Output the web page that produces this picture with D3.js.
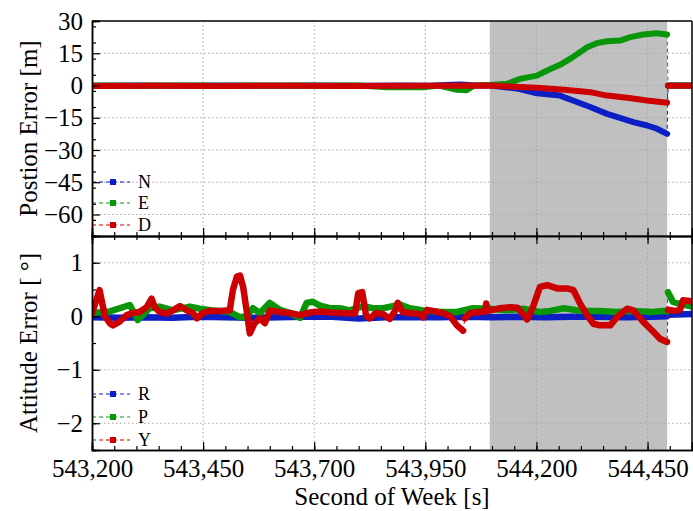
<!DOCTYPE html>
<html>
<head>
<meta charset="utf-8">
<script src="https://cdn.jsdelivr.net/npm/d3@7"></script>
<style>
  body { margin: 0; background: #fff; }
  svg text { font-family: "Liberation Serif", "Times New Roman", serif; fill: #000; }
</style>
</head>
<body>
<div id="chart"></div>
<script>
// data: [second of week, error]
const posN = [[543200, -0.1], [543300, 0], [543400, -0.1], [543500, 0], [543600, -0.1], [543700, 0],
  [543800, -0.1], [543900, 0], [543960, -0.1], [544010, 0.3], [544030, 0.5], [544055, 0.1], [544096, 0],
  [544130, -0.8], [544160, -1.5], [544201, -3.6], [544253, -4.7], [544282, -7], [544321, -10],
  [544359, -13.2], [544395, -15.5], [544418, -17], [544449, -18.6], [544471, -20.1], [544494, -22.5],
  [544495, null], [544496, 0], [544550, 0]];
const posE = [[543200, 0], [543300, -0.1], [543400, 0], [543500, -0.1], [543600, 0], [543700, -0.1],
  [543800, 0], [543864, -0.8], [543945, -0.8], [543980, 0], [544021, -2.0], [544043, -2.2], [544060, 0],
  [544096, 0.2], [544134, 0.8], [544163, 3.1], [544201, 4.6], [544224, 7], [544253, 9.6], [544282, 13.2],
  [544314, 17.8], [544336, 19.7], [544359, 20.6], [544388, 20.9], [544411, 22.5], [544440, 23.7],
  [544471, 24.3], [544494, 23.7], [544495, null], [544496, 0], [544550, 0]];
const posD = [[543200, -0.2], [543350, -0.1], [543500, -0.2], [543650, -0.1], [543800, -0.2],
  [543950, -0.1], [544096, 0], [544201, -1.1], [544263, -2], [544321, -3.1], [544359, -4.7],
  [544404, -5.7], [544449, -7], [544494, -8], [544495, null], [544496, -0.1], [544550, -0.1]];

const attR = [[543200, -0.02], [543260, -0.03], [543320, -0.02], [543380, -0.03], [543440, -0.01],
  [543500, -0.02], [543560, -0.03], [543620, -0.02], [543680, -0.01], [543740, -0.01], [543800, -0.04],
  [543860, -0.02], [543920, -0.02], [543980, -0.02], [544040, -0.01], [544100, -0.02], [544160, -0.01],
  [544220, -0.02], [544280, -0.01], [544340, -0.01], [544400, -0.02], [544460, -0.01], [544494, 0],
  [544495, null], [544496, 0.03], [544550, 0.04]];
const attP = [[543200, 0.06], [543240, 0.09], [543285, 0.21], [543303, -0.07], [543330, 0.15],
  [543352, 0.18], [543382, 0.11], [543420, 0.18], [543443, 0.14], [543471, 0.11], [543510, 0.08],
  [543533, -0.02], [543548, 0], [543562, 0.15], [543578, 0.06], [543600, 0.25], [543623, 0.12],
  [543645, 0.06], [543668, -0.03], [543683, 0.25], [543697, 0.27], [543713, 0.2], [543735, 0.15],
  [543758, 0.15], [543780, 0.11], [543810, 0.19], [543832, 0.15], [543855, 0.15], [543877, 0.19],
  [543893, 0.22], [543915, 0.15], [543945, 0.11], [543983, 0.08], [544021, 0.08], [544057, 0.15],
  [544096, 0.14], [544134, 0.11], [544170, 0.14], [544208, 0.08], [544231, 0.1], [544262, 0.15],
  [544300, 0.1], [544343, 0.1], [544380, 0.08], [544420, 0.1], [544460, 0.08], [544485, 0.1],
  [544494, 0.09], [544495, null], [544496, 0.45], [544507, 0.27], [544523, 0.23], [544550, 0.18]];
const attY = [[543200, 0.05], [543217, 0.49], [543229, 0], [543240, -0.13], [543247, -0.17],
  [543262, -0.1], [543278, 0.02], [543292, 0.06], [543307, 0.08], [543323, 0.17], [543334, 0.33],
  [543341, 0.17], [543352, 0.08], [543368, 0.05], [543382, 0.11], [543398, 0.19], [543413, 0.11],
  [543427, 0.06], [543436, -0.04], [543449, 0.06], [543465, 0.1], [543488, 0.1], [543510, 0.11],
  [543517, 0.49], [543526, 0.74], [543533, 0.76], [543540, 0.55], [543548, 0.1], [543555, -0.32],
  [543566, -0.13], [543578, -0.04], [543589, -0.13], [543600, 0.11], [543623, 0.08], [543645, 0.06],
  [543668, 0.02], [543690, 0.07], [543713, 0.09], [543735, 0.07], [543758, 0.06], [543792, 0.05],
  [543799, 0.43], [543808, 0.45], [543817, 0], [543825, -0.04], [543839, 0.06], [543855, 0.04],
  [543870, -0.05], [543882, 0.1], [543888, 0.25], [543899, 0.08], [543915, 0.06], [543938, 0.04],
  [543945, -0.02], [543954, 0.12], [543972, 0.09], [543990, 0.06], [544006, 0], [544021, -0.17],
  [544035, -0.27], [544037, null], [544039, -0.04], [544051, 0.06], [544085, 0.09], [544087, 0.24],
  [544091, 0.1], [544118, 0.15], [544141, 0.17], [544157, 0.16], [544170, 0.04], [544179, -0.06],
  [544192, 0.17], [544208, 0.55], [544224, 0.58], [544247, 0.52], [544269, 0.52], [544283, 0.49],
  [544298, 0.24], [544314, 0.02], [544328, -0.14], [544343, -0.17], [544366, -0.17], [544382, -0.01],
  [544404, 0.14], [544418, 0.11], [544440, -0.1], [544463, -0.29], [544478, -0.42], [544494, -0.48],
  [544495, null], [544496, 0.12], [544513, 0.1], [544523, 0.12], [544530, 0.3], [544550, 0.28]];

const outage = [544095, 544494];
const xTicks = [543200, 543450, 543700, 543950, 544200, 544450];
const posTicks = [30, 15, 0, -15, -30, -45, -60];
const attTicks = [1, 0, -1, -2];

const blue = '#0c1fc4', green = '#0a960a', red = '#cc0000';

const w = 693, h = 511;
const left = 92, right = 692;

const svg = d3.select('#chart').append('svg')
  .attr('width', w)
  .attr('height', h);

const x = d3.scaleLinear().domain([543200, 544550]).range([left, right]);

const panels = [
  { y: d3.scaleLinear().domain([-70, 30]).range([236, 21]), ticks: posTicks, minor: 7.5,
    title: 'Postion Error [m]', series: [[posN, blue, 'N'], [posE, green, 'E'], [posD, red, 'D']],
    legendY: [182, 203, 225], topTicks: false, lw: 6 },
  { y: d3.scaleLinear().domain([-2.5, 1.5]).range([450, 236]), ticks: attTicks, minor: 0.5,
    title: 'Attitude Error [ °]', series: [[attR, blue, 'R'], [attP, green, 'P'], [attY, red, 'Y']],
    legendY: [394, 417, 440], topTicks: true, lw: 6.5 }
];

panels.forEach(function(p, i) {
  const y = p.y;
  const top = y.range()[1], bottom = y.range()[0];
  const g = svg.append('g');

  g.append('clipPath').attr('id', 'clip' + i)
    .append('rect').attr('x', left).attr('y', top).attr('width', right - left).attr('height', bottom - top);

  // outage shading
  g.append('rect')
    .attr('x', x(outage[0]))
    .attr('y', top)
    .attr('width', x(outage[1]) - x(outage[0]))
    .attr('height', bottom - top)
    .style('fill', '#c0c0c0');

  // grid
  const grid = g.append('g').style('stroke', '#a8a8a8').style('stroke-dasharray', '1.5,2.5');
  grid.selectAll('.gx').data(xTicks.slice(1)).enter().append('line')
    .attr('x1', d => x(d)).attr('x2', d => x(d)).attr('y1', top).attr('y2', bottom);
  grid.selectAll('.gy').data(p.ticks.filter(d => y(d) > top + 1)).enter().append('line')
    .attr('x1', left).attr('x2', right).attr('y1', d => y(d)).attr('y2', d => y(d));

  // legend
  p.series.forEach(function(s, k) {
    const ly = p.legendY[k];
    g.append('line').attr('x1', left).attr('x2', left + 38).attr('y1', ly).attr('y2', ly)
      .style('stroke', s[1]).style('stroke-width', 1).style('stroke-dasharray', '4,3');
    g.append('rect').attr('x', left + 18).attr('y', ly - 3).attr('width', 6).attr('height', 6)
      .style('fill', s[1]);
    g.append('text').attr('x', left + 46).attr('y', ly + 6).style('font-size', '18px').text(s[2]);
  });

  // series
  const lines = g.append('g').attr('clip-path', 'url(#clip' + i + ')');
  const thin = d3.line().x(d => x(d[0])).y(d => y(d[1]));
  const thick = d3.line().defined(d => d[1] !== null).x(d => x(d[0])).y(d => y(d[1]));
  p.series.forEach(function(s) {
    lines.append('path')
      .attr('d', thin(s[0].filter(d => d[1] !== null)))
      .style('fill', 'none').style('stroke', s[1]).style('stroke-width', 1).style('stroke-dasharray', '4,3');
    lines.append('path')
      .attr('d', thick(s[0]))
      .style('fill', 'none').style('stroke', s[1]).style('stroke-width', p.lw)
      .style('stroke-linejoin', 'round').style('stroke-linecap', 'round');
  });

  // axes with inward ticks
  const minorX = d3.range(543200, 544551, 50);
  g.append('g').attr('transform', 'translate(0,' + bottom + ')')
    .call(d3.axisBottom(x).tickValues(minorX).tickSize(-4).tickFormat(''));
  const xa = g.append('g').attr('transform', 'translate(0,' + bottom + ')')
    .call(d3.axisBottom(x).tickValues(xTicks).tickSize(-8).tickPadding(9)
      .tickFormat(i === 1 ? d3.format(',') : ''));
  xa.selectAll('text').style('font-size', '25px');

  if (p.topTicks) {
    g.append('g').attr('transform', 'translate(0,' + top + ')')
      .call(d3.axisTop(x).tickValues(minorX).tickSize(-4).tickFormat(''));
    g.append('g').attr('transform', 'translate(0,' + top + ')')
      .call(d3.axisTop(x).tickValues(xTicks).tickSize(-8).tickFormat(''));
  } else {
    g.append('line').attr('x1', left).attr('x2', right).attr('y1', top).attr('y2', top)
      .style('stroke', '#000').style('stroke-width', 1.5);
  }

  const minorY = d3.range(y.domain()[0], y.domain()[1] + 0.001, p.minor);
  g.append('g').attr('transform', 'translate(' + left + ',0)')
    .call(d3.axisLeft(y).tickValues(minorY).tickSize(-4).tickFormat(''));
  const ya = g.append('g').attr('transform', 'translate(' + left + ',0)')
    .call(d3.axisLeft(y).tickValues(p.ticks).tickSize(-8).tickPadding(9).tickFormat(d3.format('d')));
  ya.selectAll('text').style('font-size', '25px');

  g.append('line').attr('x1', right).attr('x2', right).attr('y1', top).attr('y2', bottom)
    .style('stroke', '#000').style('stroke-width', 1.5);

  g.selectAll('.domain').style('stroke-width', 1.5);
  g.selectAll('.tick line').style('stroke-width', 1.2);

  g.append('text')
    .attr('transform', 'translate(37,' + (top + bottom) / 2 + ') rotate(-90)')
    .attr('text-anchor', 'middle')
    .style('font-size', '25px')
    .text(p.title);
});

svg.append('text')
  .attr('x', (left + right) / 2)
  .attr('y', 505)
  .attr('text-anchor', 'middle')
  .style('font-size', '25px')
  .text('Second of Week [s]');
</script>
</body>
</html>
